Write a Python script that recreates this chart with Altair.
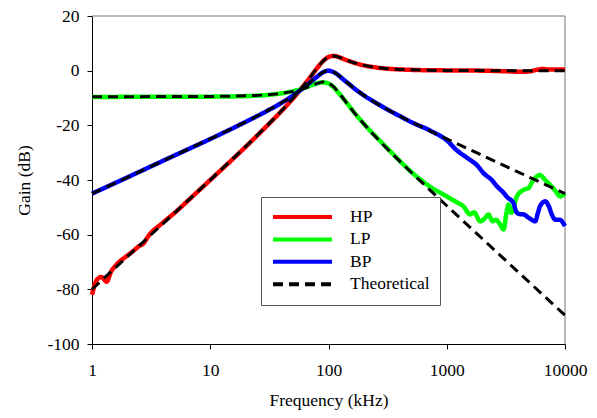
import altair as alt
import pandas as pd

# ---- data ----
series_names = ["HP", "LP", "BP", "Theoretical"]
series_colors = ["#ff0000", "#00ff00", "#0000ff", "#000000"]
series_dash = [[1, 0], [1, 0], [1, 0], [10, 6]]

x_ticks = [1, 10, 100, 1000, 10000]
y_ticks = [-100, -80, -60, -40, -20, 0, 20]

th_freq = [1, 2, 5, 10, 20, 30, 40, 50, 60, 70, 80, 90, 100, 110, 120, 130,
           150, 170, 200, 250, 300, 400, 500, 700, 1000, 2000, 5000, 10000]
th_hp = [-80.0, -67.96, -52.02, -39.93, -27.66, -20.24, -14.71, -10.11, -6.06, -2.38,
         0.91, 3.52, 5.01, 5.37, 5.05, 4.52, 3.48, 2.70, 1.93, 1.22, 0.83, 0.46,
         0.30, 0.15, 0.07, 0.02, 0.0, 0.0]
th_lp = [-9.5, -9.5, -9.48, -9.43, -9.2, -8.83, -8.29, -7.57, -6.69, -5.68, -4.71,
         -4.15, -4.49, -5.79, -7.62, -9.54, -13.07, -16.02, -19.61, -24.20, -27.75,
         -33.12, -37.16, -43.15, -49.43, -61.5, -77.46, -89.5]
th_bp = [-45.0, -39.0, -31.01, -24.94, -18.69, -14.80, -11.76, -9.10, -6.63, -4.29,
         -2.16, -0.57, 0.0, -0.47, -1.54, -2.77, -5.05, -6.92, -9.10, -11.75, -13.72,
         -16.59, -18.69, -21.76, -24.93, -31.01, -38.99, -45.0]

hp_freq = [1.0, 1.1, 1.2, 1.33, 1.45, 1.57, 1.75, 1.9, 2.2, 2.5, 2.72, 3.0, 4, 5, 7,
           10, 20, 30, 40, 50, 60, 70, 80, 90, 100, 110, 120, 130, 150, 170, 200,
           250, 300, 400, 500, 700, 1000, 2000, 3000, 4200, 5000, 5600, 6500, 7500,
           10000]
hp_gain = [-82, -76.5, -75.5, -77.2, -73.5, -71.5, -69.5, -68.3, -66.2, -64.2, -63.2,
           -60.5, -55.5, -52, -46.2, -40, -27.8, -20.3, -14.8, -10.2, -6.1, -2.4, 0.9,
           3.5, 5.0, 5.4, 5.1, 4.5, 3.5, 2.7, 1.9, 1.2, 0.8, 0.45, 0.3, 0.15, 0.1, 0.0,
           -0.2, -0.4, -0.3, 0.2, 0.6, 0.4, 0.4]

lp_freq = [1, 10, 20, 30, 40, 50, 60, 70, 80, 90, 100, 110, 120, 130, 150, 170, 200,
           250, 300, 400, 500, 720, 1000, 1200, 1380, 1580, 1700, 1920, 2100, 2250,
           2450, 2600, 2800, 3020, 3200, 3330, 3500, 3920, 4450, 4900, 5400, 6150,
           6800, 7500, 8300, 9100, 10000]
lp_gain = [-9.6, -9.5, -9.3, -8.9, -8.3, -7.5, -6.6, -5.5, -4.6, -4.3, -4.7, -6.0,
           -7.8, -9.6, -13.0, -16.0, -19.5, -24.0, -27.5, -33.0, -37.0, -42.4, -46.0,
           -48.0, -49.6, -52.6, -51.8, -55.1, -54.0, -52.6, -55.1, -54.5, -56.0, -58.1,
           -52.0, -49.0, -52.0, -46.0, -43.6, -43.0, -40.0, -38.2, -40.0, -41.8, -44.0,
           -46.0, -44.8]

bp_freq = [1, 2, 5, 10, 20, 30, 40, 50, 60, 70, 80, 90, 100, 110, 120, 130, 150, 170,
           200, 250, 300, 400, 500, 730, 1000, 1220, 1500, 1800, 2060, 2400, 2670,
           3000, 3250, 3660, 3920, 4200, 4450, 5000, 5600, 5900, 6150, 6800, 7300,
           7800, 8300, 9000, 10000]
bp_gain = [-45, -39, -31, -25, -18.7, -14.8, -11.8, -9.1, -6.6, -4.3, -2.2, -0.6, 0.0,
           -0.5, -1.5, -2.8, -5.0, -6.9, -9.1, -11.7, -13.7, -16.6, -18.8, -22.0, -25.5,
           -29.2, -32.0, -34.6, -37.6, -40.0, -42.4, -44.5, -46.3, -48.4, -52.0, -52.5,
           -52.6, -54.0, -55.1, -52.0, -49.6, -47.8, -49.6, -53.0, -54.5, -54.5, -56.9]

# ---- tables ----
meas_rows = []
for name, fr, gn in [("HP", hp_freq, hp_gain), ("LP", lp_freq, lp_gain), ("BP", bp_freq, bp_gain)]:
    for i, (f, g) in enumerate(zip(fr, gn)):
        meas_rows.append({"freq": f, "gain": g, "series": name, "order": i})
meas = pd.DataFrame(meas_rows)

th_rows = []
for name, gn in [("th_hp", th_hp), ("th_lp", th_lp), ("th_bp", th_bp)]:
    for i, (f, g) in enumerate(zip(th_freq, gn)):
        th_rows.append({"freq": f, "gain": g, "series": "Theoretical", "curve": name, "order": i})
theo = pd.DataFrame(th_rows)

FONT = "Times New Roman, Liberation Serif, serif"
FS = 17.5

xscale = alt.Scale(type="log", domain=[1, 10000], nice=False)
yscale = alt.Scale(domain=[-100, 20], nice=False, zero=False)

xaxis = alt.Axis(values=x_ticks, format="d", title="Frequency (kHz)", grid=False,
                 tickSize=5, labelFlush=False, labelOverlap=False,
                 labelBaseline="alphabetic", labelPadding=26,
                 titleBaseline="alphabetic", titleY=61)
yaxis = alt.Axis(values=y_ticks, labelExpr="'' + datum.value", title="Gain (dB)",
                 grid=False, tickSize=5, labelPadding=8, labelOverlap=False,
                 titleX=-68, titleY=164, titleAngle=-90, titleAlign="center",
                 titleBaseline="middle")

legend_def = alt.Legend(
    orient="none", legendX=169, legendY=181, title=None,
    strokeColor="#555555", fillColor="white", padding=10,
    symbolType="stroke", symbolSize=3481, symbolStrokeWidth=4,
    clipHeight=20, rowPadding=2.4, labelOffset=16,
    labelFont=FONT, labelFontSize=FS, labelColor="black",
)

color_enc = alt.Color("series:N", scale=alt.Scale(domain=series_names, range=series_colors),
                      legend=legend_def)
dash_enc = alt.StrokeDash("series:N", scale=alt.Scale(domain=series_names, range=series_dash),
                          legend=legend_def)

measured = alt.Chart(meas).mark_line(strokeWidth=4.5, strokeJoin="round", interpolate="monotone").encode(
    x=alt.X("freq:Q", scale=xscale, axis=xaxis),
    y=alt.Y("gain:Q", scale=yscale, axis=yaxis),
    color=color_enc,
    strokeDash=dash_enc,
    order="order:Q",
)

theory = alt.Chart(theo).mark_line(strokeWidth=3, interpolate="monotone").encode(
    x=alt.X("freq:Q", scale=xscale, axis=xaxis),
    y=alt.Y("gain:Q", scale=yscale, axis=yaxis),
    color=color_enc,
    strokeDash=dash_enc,
    detail="curve:N",
    order="order:Q",
)

top_rule = alt.Chart(pd.DataFrame({"a": [0]})).mark_rule(color="#777777", strokeWidth=1).encode(
    x=alt.datum(1), x2=alt.datum(10000), y=alt.datum(20))
right_rule = alt.Chart(pd.DataFrame({"a": [0]})).mark_rule(color="#777777", strokeWidth=1).encode(
    x=alt.datum(10000), y=alt.datum(-100), y2=alt.datum(20))

chart = alt.layer(top_rule, right_rule, measured, theory).properties(
    width=473, height=328,
    padding={"left": 84, "top": 8, "right": 24, "bottom": 66},
    autosize=alt.AutoSizeParams(type="none"),
).configure_view(stroke=None).configure_axis(
    labelFont=FONT, labelFontSize=FS, labelColor="black",
    titleFont=FONT, titleFontSize=FS, titleColor="black", titleFontWeight="normal",
    domainColor="black", tickColor="black", domainWidth=1, tickWidth=1,
)

chart.save("out.html", embed_options={"renderer": "svg", "actions": False})
